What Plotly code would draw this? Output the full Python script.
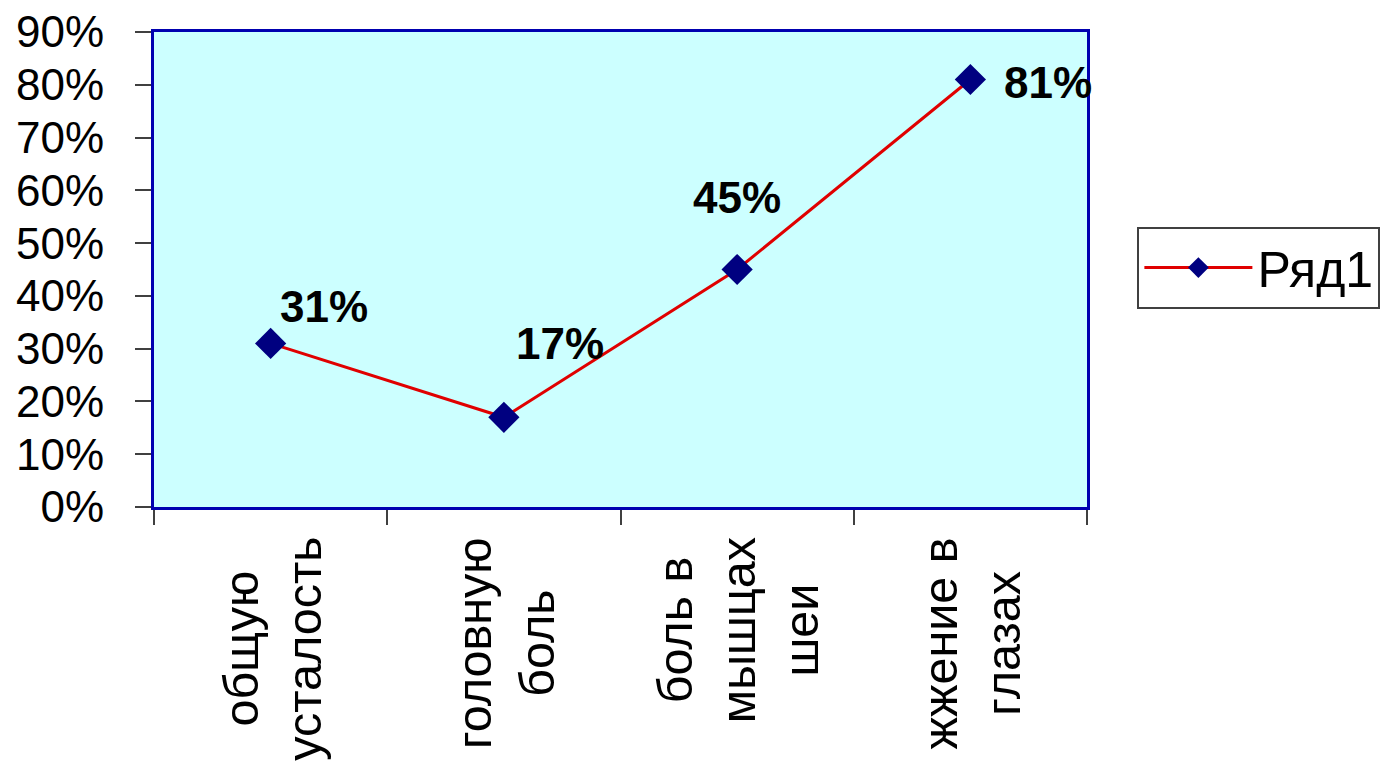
import plotly.graph_objects as go

categories = ["общую<br>усталость", "головную<br>боль", "боль в<br>мышцах<br>шеи", "жжение в<br>глазах"]
values = [0.31, 0.17, 0.45, 0.81]
series_name = "Ряд1"
y_ticks = [0, 0.1, 0.2, 0.3, 0.4, 0.5, 0.6, 0.7, 0.8, 0.9]

FONT = "Liberation Sans, Arial, sans-serif"
x_idx = list(range(len(categories)))

fig = go.Figure()
fig.add_trace(go.Scatter(
    x=x_idx, y=values, mode="lines+markers", name=series_name,
    line=dict(color="#E00000", width=3),
    marker=dict(symbol="diamond", size=24, color="#000080", line=dict(width=0)),
))

# data labels (offsets in px)
label_offsets = [(53, 37), (56, 74), (0, 72), (78, -3)]
for i, v in enumerate(values):
    dx, dy = label_offsets[i]
    fig.add_annotation(
        x=x_idx[i], y=v, xref="x", yref="y", text=f"{v:.0%}", showarrow=False,
        xshift=dx, yshift=dy, xanchor="center", yanchor="middle",
        font=dict(family=FONT, size=44, color="black", weight="bold"),
    )

# category labels rotated
for i, c in enumerate(categories):
    fig.add_annotation(
        x=x_idx[i], y=0, xref="x", yref="y", text=c, showarrow=False,
        textangle=-90, align="center", xanchor="center", yanchor="top",
        yshift=-28, xshift=1,
        font=dict(family=FONT, size=48.5, color="black"),
    )

fig.update_layout(
    width=1387, height=773,
    margin=dict(l=154, r=300, t=32, b=266, pad=0, autoexpand=False),
    paper_bgcolor="white", plot_bgcolor="#CCFFFF",
    font=dict(family=FONT, size=44, color="black"),
    showlegend=True,
    legend=dict(
        x=1.054, y=0.504, xanchor="left", yanchor="middle",
        bordercolor="#404040", borderwidth=2, bgcolor="white",
        font=dict(family=FONT, size=50, color="black"),
        itemwidth=108,
    ),
    xaxis=dict(
        range=[-0.5, len(categories) - 0.5], tickmode="array",
        tickvals=[i - 0.5 for i in range(len(categories) + 1)],
        showticklabels=False, ticks="outside", ticklen=15, tickcolor="#404040", tickwidth=1.5,
        showgrid=False, zeroline=False, automargin=False,
        showline=True, linecolor="#0000B0", linewidth=3, mirror=True,
    ),
    yaxis=dict(
        range=[0, 0.9], tickmode="array", tickvals=y_ticks, tickformat=".0%",
        ticks="outside", ticklen=16, tickcolor="#404040", tickwidth=1.5,
        ticklabelstandoff=22, automargin=False,
        showgrid=False, zeroline=False,
        showline=True, linecolor="#0000B0", linewidth=3, mirror=True,
        tickfont=dict(family=FONT, size=44, color="black"),
    ),
)

fig.write_html("out.html")
